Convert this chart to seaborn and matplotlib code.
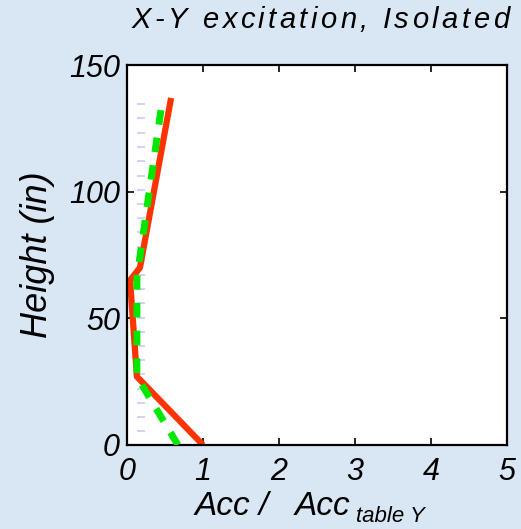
import numpy as np
import pandas as pd
import matplotlib.pyplot as plt
import seaborn as sns

# response profiles: normalized acceleration vs height
red_acc = [1.0, 0.13, 0.04, 0.17, 0.58]
red_height = [0, 27, 65, 70, 137]
green_acc = [0.67, 0.13, 0.13, 0.46]
green_height = [0, 27, 66, 135]

# faint floor markers near the left edge
marker_height = [5.4, 11.1, 16.7, 22.3, 27.9, 33.5, 39.1, 44.7, 50.3, 55.9,
                 61.5, 67.1, 72.7, 78.3, 83.9, 89.5, 95.1, 100.8, 106.3, 112.0,
                 117.5, 123.3, 129.0, 134.5]
marker_acc = [0.18] * len(marker_height)

x_ticks = [0, 1, 2, 3, 4, 5]
y_ticks = [0, 50, 100, 150]
title = 'X-Y excitation, Isolated'

sns.set_style("ticks")
plt.rcParams['font.family'] = ['Liberation Sans', 'DejaVu Sans']
plt.rcParams['font.style'] = 'italic'
plt.rcParams['text.color'] = 'black'
plt.rcParams['axes.labelcolor'] = 'black'

bg = '#d9e6f4'
W, H = 521, 529
fig = plt.figure(figsize=(W / 100, H / 100), dpi=100, facecolor=bg)
ax = fig.add_axes([0.2438, 0.1588, 0.7294, 0.7183])
ax.set_facecolor('white')

sns.scatterplot(x=marker_acc, y=marker_height, marker='_', s=40,
                color='#c9c9ef', linewidth=1.2, ax=ax, zorder=1, legend=False)
sns.lineplot(x=red_acc, y=red_height, sort=False, estimator=None,
             color='#ff3300', lw=4.5, solid_capstyle='butt', ax=ax, zorder=2)
sns.lineplot(x=green_acc, y=green_height, sort=False, estimator=None,
             color='#00e800', lw=5, linestyle=(0, (2.1, 1.9)),
             dash_capstyle='butt', ax=ax, zorder=3)

ax.set_xlim(0, 5)
ax.set_ylim(0, 150)
ax.set_xticks(x_ticks)
ax.set_yticks(y_ticks)
ax.tick_params(direction='in', length=5, width=1.2, top=True, right=True,
               labelsize=22, colors='black')
ax.tick_params(axis='x', pad=9)
ax.tick_params(axis='y', pad=5)
for s in ax.spines.values():
    s.set_linewidth(1.6)
    s.set_color('black')

ax.set_ylabel('Height (in)', fontsize=26, labelpad=10)

# x label with a dropped subscript
fig.text(195 / W, 1 - 515 / H, 'Acc /', fontsize=24, ha='left', va='baseline')
fig.text(295 / W, 1 - 515 / H, 'Acc', fontsize=24, ha='left', va='baseline')
fig.text(356 / W, 1 - 522 / H, 'table Y', fontsize=16, ha='left', va='baseline')

# letter-spaced title, drawn char by char
r = fig.canvas.get_renderer()
x = 132
for ch in title:
    t = fig.text(x / W, 1 - 28 / H, ch, fontsize=21, ha='left', va='baseline')
    w = t.get_window_extent(r).width if ch != ' ' else 21 * 100 / 72 * 0.278
    x += w + 3.4

fig.savefig('out.png', dpi=100, facecolor=bg)
